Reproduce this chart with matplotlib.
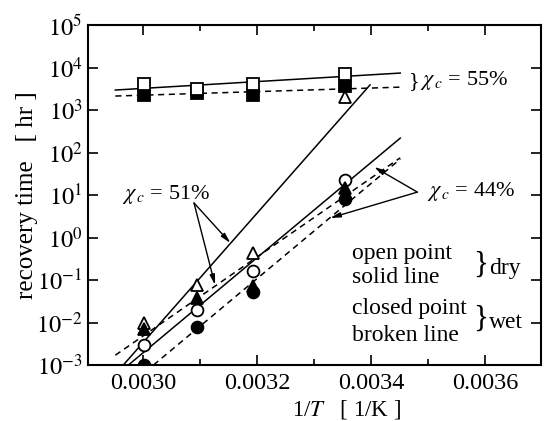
import matplotlib
matplotlib.use("Agg")
import matplotlib.pyplot as plt
from matplotlib.ticker import FixedLocator, NullLocator

plt.rcParams['font.family'] = ['Liberation Serif', 'DejaVu Serif']
plt.rcParams['mathtext.fontset'] = 'stix'

# inverse temperature of the four test conditions [1/K]
inv_T = [0.003002, 0.003095, 0.003193, 0.003354]

# recovery time [hr] by crystallinity, dry (open) and wet (closed)
dry55 = [4200, 3200, 4200, 7000]
wet55 = [2300, 2500, 2300, 3700]
dry51 = [0.010, 0.078, 0.43, 2000]
wet51 = [0.0072, 0.038, 0.072, 15]
dry44 = [0.003, 0.020, 0.16, 23]
wet44 = [0.001, 0.0078, 0.052, 8.0]

# fitted Arrhenius lines (end points)
fit55_dry_x, fit55_dry_y = [0.002951, 0.003451], [2950, 7400]
fit55_wet_x, fit55_wet_y = [0.002951, 0.003451], [2130, 3450]
fit51_dry_x, fit51_dry_y = [0.002965, 0.003398], [0.001, 3900]
fit51_wet_x, fit51_wet_y = [0.002951, 0.003451], [0.0017, 75]
fit44_dry_x, fit44_dry_y = [0.002974, 0.003451], [0.001, 218]
fit44_wet_x, fit44_wet_y = [0.003018, 0.003451], [0.001, 70]

x_major = [0.0030, 0.0032, 0.0034, 0.0036]
x_major_labels = ["0.0030", "0.0032", "0.0034", "0.0036"]
x_minor = [0.0031, 0.0033, 0.0035]
y_decades = [1e-3, 1e-2, 1e-1, 1e0, 1e1, 1e2, 1e3, 1e4, 1e5]
y_labels = [r"$10^{-3}$", r"$10^{-2}$", r"$10^{-1}$", r"$10^{0}$", r"$10^{1}$",
            r"$10^{2}$", r"$10^{3}$", r"$10^{4}$", r"$10^{5}$"]

fig = plt.figure(figsize=(5.44, 4.21), dpi=100)
ax = fig.add_axes([88 / 544, 1 - 365 / 421, 453 / 544, 340 / 421])
ax.set_yscale('log')
ax.set_xlim(0.002903, 0.003698)
ax.set_ylim(1e-3, 1e5)

lw = 1.1
dash = (0, (4, 3))
for xs, ys, ls in [(fit55_dry_x, fit55_dry_y, '-'), (fit55_wet_x, fit55_wet_y, dash),
                   (fit51_dry_x, fit51_dry_y, '-'), (fit51_wet_x, fit51_wet_y, dash),
                   (fit44_dry_x, fit44_dry_y, '-'), (fit44_wet_x, fit44_wet_y, dash)]:
    ax.plot(xs, ys, color='black', lw=lw, linestyle=ls, zorder=2)

ms = 8.5
mk = dict(color='black', markeredgewidth=1.3, linestyle='none', zorder=3)
ax.plot(inv_T, wet55, marker='s', markersize=ms, markerfacecolor='black', **mk)
ax.plot(inv_T, dry55, marker='s', markersize=ms, markerfacecolor='white', **mk)
ax.plot(inv_T, dry51, marker='^', markersize=ms + 0.5, markerfacecolor='white', **mk)
ax.plot(inv_T, dry44, marker='o', markersize=ms, markerfacecolor='white', **mk)
ax.plot(inv_T, wet44, marker='o', markersize=ms, markerfacecolor='black', **mk)
ax.plot(inv_T, wet51, marker='^', markersize=ms + 0.5, markerfacecolor='black', **mk)

# axes styling
for sp in ax.spines.values():
    sp.set_linewidth(1.5)
ax.xaxis.set_major_locator(FixedLocator(x_major))
ax.set_xticklabels(x_major_labels)
ax.xaxis.set_minor_locator(FixedLocator(x_minor))
ax.yaxis.set_major_locator(FixedLocator(y_decades))
ax.set_yticklabels(y_labels)
ax.yaxis.set_minor_locator(NullLocator())
ax.tick_params(which='both', direction='in', top=True, right=True, width=1.2,
               labelsize=17.5)
ax.tick_params(which='major', length=7)
ax.tick_params(axis='y', which='major', pad=4)
ax.tick_params(axis='x', which='major', pad=6)
ax.tick_params(which='minor', length=4.5)

ax.set_ylabel("recovery time   [ hr ]", fontsize=18)
ax.yaxis.set_label_coords(-0.11, 0.5, transform=ax.transAxes)
ax.set_xlabel("1/$T$   [ 1/K ]", fontsize=16.5)
ax.xaxis.set_label_coords(0.57, -0.097, transform=ax.transAxes)

tf = ax.transAxes
fs = 16
# crystallinity labels
ax.text(0.709, 0.835, "}", transform=tf, fontsize=16, va='center', ha='left')
ax.text(0.733, 0.838, r"$\chi_{\,c}$ = 55%", transform=tf, fontsize=fs, va='center', ha='left')
ax.text(0.075, 0.50, r"$\chi_{\,c}$ = 51%", transform=tf, fontsize=fs, va='center', ha='left')
ax.text(0.748, 0.509, r"$\chi_{\,c}$ = 44%", transform=tf, fontsize=fs, va='center', ha='left')

arrow = dict(arrowstyle='-|>,head_length=0.6,head_width=0.15', color='black', lw=1.0,
             shrinkA=0, shrinkB=0)
ax.annotate("", xy=(0.003153, 0.74), xytext=(0.003089, 6.5), arrowprops=arrow)
ax.annotate("", xy=(0.003126, 0.076), xytext=(0.003089, 6.5), arrowprops=arrow)
ax.annotate("", xy=(0.003405, 45.6), xytext=(0.003481, 11.7), arrowprops=arrow)
ax.annotate("", xy=(0.003328, 2.88), xytext=(0.003481, 11.7), arrowprops=arrow)

# key for marker / line style
kfs = 17
ax.text(0.583, 0.329, "open point", transform=tf, fontsize=kfs, va='center', ha='left')
ax.text(0.583, 0.256, "solid line", transform=tf, fontsize=kfs, va='center', ha='left')
ax.text(0.583, 0.165, "closed point", transform=tf, fontsize=kfs, va='center', ha='left')
ax.text(0.583, 0.088, "broken line", transform=tf, fontsize=kfs, va='center', ha='left')
ax.text(0.866, 0.292, "}", transform=tf, fontsize=22, va='center', ha='center')
ax.text(0.886, 0.285, "dry", transform=tf, fontsize=kfs, va='center', ha='left')
ax.text(0.866, 0.133, "}", transform=tf, fontsize=22, va='center', ha='center')
ax.text(0.886, 0.126, "wet", transform=tf, fontsize=kfs, va='center', ha='left')

fig.savefig("out.png", dpi=100)
